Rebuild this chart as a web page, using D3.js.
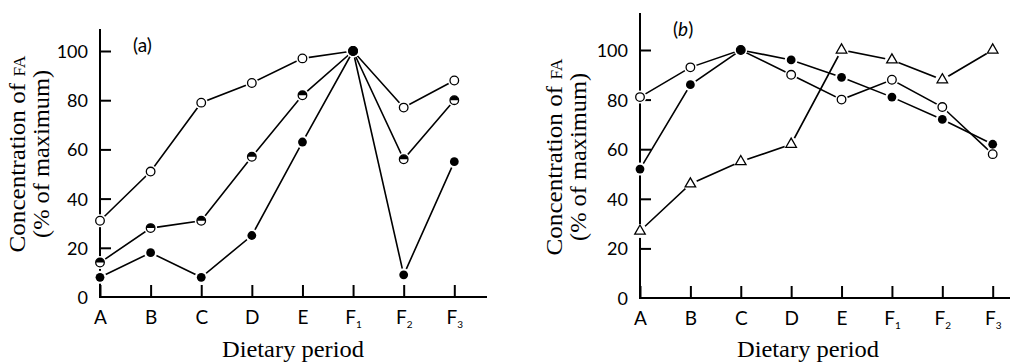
<!DOCTYPE html>
<html lang="en">
  <head>
    <meta charset="utf-8">
    <title>Concentration of FA by dietary period</title>
    <script src="https://d3js.org/d3.v7.min.js"></script>
    <style>
      body { margin: 0; background: #fff; }
      .tick text { font-family: Lato, "DejaVu Sans", sans-serif; fill: #000; }
      .serif { font-family: "Liberation Serif", "DejaVu Serif", serif; fill: #000; }
    </style>
  </head>
  <body>
    <div id="chart"></div>
    <script>

// Data (% of maximum)
var periods = ["A", "B", "C", "D", "E", "F1", "F2", "F3"];
var yTicks = [0, 20, 40, 60, 80, 100];

// panel (a)
var aOpen   = [31, 51, 79, 87, 97, 100, 77, 88];
var aHalf   = [14, 28, 31, 57, 82, 100, 56, 80];
var aFilled = [8, 18, 8, 25, 63, 100, 9, 55];

// panel (b)
var bOpen     = [81, 93, 100, 90, 80, 88, 77, 58];
var bFilled   = [52, 86, 100, 96, 89, 81, 72, 62];
var bTriangle = [27, 46, 55, 62, 100, 96, 88, 100];

var w = 1015, h = 362;

var svg = d3.select("#chart").append("svg")
    .attr("width", w)
    .attr("height", h);

var panels = [
  { label: "a", italic: false, left: 100, right: 454.3, axisEnd: 487, bottom: 297, top100: 51, axisTop: 29,
    labelX: 133, labelY: 52, yTitleX: 25, yTitleY: 154, xTitleX: 293,
    series: [ {values: aOpen, type: "open"}, {values: aHalf, type: "half"}, {values: aFilled, type: "filled"} ] },
  { label: "b", italic: true, left: 640, right: 992.7, axisEnd: 1010, bottom: 298, top100: 50, axisTop: 13,
    labelX: 673, labelY: 36, yTitleX: 562, yTitleY: 157, xTitleX: 808,
    series: [ {values: bTriangle, type: "triangle"}, {values: bOpen, type: "open"}, {values: bFilled, type: "filled"} ] }
];

panels.forEach(function(p) {
  var g = svg.append("g");

  var x = d3.scalePoint().domain(periods).range([p.left, p.right]);
  var y = d3.scaleLinear().domain([0, 100]).range([p.bottom, p.top100]);

  // axes lines
  g.append("line")
    .attr("x1", p.left).attr("x2", p.left)
    .attr("y1", p.axisTop).attr("y2", p.bottom)
    .attr("stroke", "#000").attr("stroke-width", 2);
  g.append("line")
    .attr("x1", p.left - 1).attr("x2", p.axisEnd)
    .attr("y1", p.bottom).attr("y2", p.bottom)
    .attr("stroke", "#000").attr("stroke-width", 2);

  // y axis (ticks point inwards)
  var yAxis = d3.axisLeft(y).tickValues(yTicks).tickSizeInner(-11).tickSizeOuter(0).tickPadding(12);
  var ya = g.append("g").attr("transform", `translate(${p.left},0)`).call(yAxis);
  ya.select(".domain").remove();
  ya.selectAll(".tick line").attr("stroke", "#000").attr("stroke-width", 2)
    .filter(d => d === 0).remove();
  ya.selectAll(".tick text").style("font-size", "18px").attr("dy", "0.36em");

  // x axis (ticks point upwards)
  var xAxis = d3.axisBottom(x).tickSizeInner(-12).tickSizeOuter(0).tickPadding(14);
  var xa = g.append("g").attr("transform", `translate(0,${p.bottom})`).call(xAxis);
  xa.select(".domain").remove();
  xa.selectAll(".tick line").attr("stroke", "#000").attr("stroke-width", 2);
  xa.selectAll(".tick text")
    .style("font-size", "19px")
    .attr("y", 27).attr("dy", 0)
    .text(null)
    .each(function(d) {
      var t = d3.select(this);
      t.append("tspan").text(d.charAt(0));
      if (d.length > 1) {
        t.append("tspan").attr("dy", 4).style("font-size", "10px").text(d.slice(1));
      }
    });

  // lines
  var line = d3.line().x((d, i) => x(periods[i])).y(d => y(d));
  p.series.forEach(function(s) {
    g.append("path")
      .datum(s.values)
      .attr("d", line)
      .attr("fill", "none")
      .attr("stroke", "#000")
      .attr("stroke-width", 1.6);
  });

  // white gaps round the markers
  p.series.forEach(function(s) {
    g.append("g").selectAll("circle")
      .data(s.values)
      .join("circle")
      .attr("cx", (d, i) => x(periods[i]))
      .attr("cy", d => y(d))
      .attr("r", s.type === "triangle" ? 7 : 6.5)
      .attr("fill", "#fff");
  });

  // markers
  p.series.forEach(function(s) {
    var mg = g.append("g");
    var pts = s.values.map((v, i) => ({ px: x(periods[i]), py: y(v) }));
    if (s.type === "open") {
      mg.selectAll("circle").data(pts).join("circle")
        .attr("cx", d => d.px).attr("cy", d => d.py).attr("r", 4.3)
        .attr("fill", "#fff").attr("stroke", "#000").attr("stroke-width", 1.3);
    } else if (s.type === "filled") {
      mg.selectAll("circle").data(pts).join("circle")
        .attr("cx", d => d.px).attr("cy", d => d.py).attr("r", 4.4)
        .attr("fill", "#000");
    } else if (s.type === "half") {
      var r = 4.3;
      var hg = mg.selectAll("g").data(pts).join("g")
        .attr("transform", d => `translate(${d.px},${d.py})`);
      hg.append("circle").attr("r", r).attr("fill", "#fff").attr("stroke", "#000").attr("stroke-width", 1.3);
      hg.append("path")
        .attr("d", `M${-r},0 A${r},${r} 0 0 1 ${r},0 Z`)
        .attr("fill", "#000");
    } else {
      mg.selectAll("path").data(pts).join("path")
        .attr("transform", d => `translate(${d.px},${d.py})`)
        .attr("d", d3.symbol(d3.symbolTriangle, 48))
        .attr("fill", "#fff").attr("stroke", "#000").attr("stroke-width", 1.3);
    }
  });

  // panel label
  var pl = g.append("text")
    .attr("x", p.labelX).attr("y", p.labelY)
    .style("font-family", "Lato, sans-serif").style("font-size", "19px");
  pl.append("tspan").text("(");
  pl.append("tspan").style("font-style", p.italic ? "italic" : "normal").text(p.label);
  pl.append("tspan").text(")");

  // y title
  var yt = g.append("text")
    .attr("class", "serif")
    .attr("transform", `translate(${p.yTitleX},${p.yTitleY}) rotate(-90)`)
    .attr("text-anchor", "middle")
    .attr("textLength", 197)
    .attr("lengthAdjust", "spacingAndGlyphs")
    .style("font-size", "23px");
  yt.append("tspan").text("Concentration of ");
  yt.append("tspan").style("font-size", "16px").text("FA");

  g.append("text")
    .attr("class", "serif")
    .attr("transform", `translate(${p.yTitleX + 24},${p.yTitleY}) rotate(-90)`)
    .attr("text-anchor", "middle")
    .attr("textLength", 168)
    .attr("lengthAdjust", "spacingAndGlyphs")
    .style("font-size", "23px")
    .text("(% of maximum)");

  // x title
  g.append("text")
    .attr("class", "serif")
    .attr("x", p.xTitleX).attr("y", 357)
    .attr("text-anchor", "middle")
    .attr("textLength", 142)
    .attr("lengthAdjust", "spacingAndGlyphs")
    .style("font-size", "23px")
    .text("Dietary period");
});

    </script>
  </body>
</html>
